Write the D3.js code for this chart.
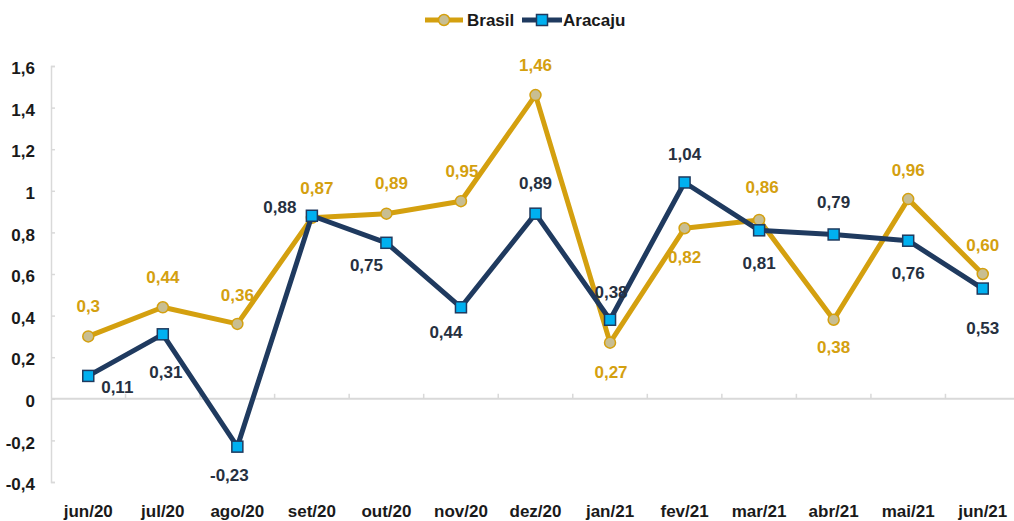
<!DOCTYPE html>
<html>
<head>
<meta charset="utf-8">
<script src="https://cdn.jsdelivr.net/npm/d3@7"></script>
<style>
 body{margin:0;background:#fff;}
 #svg{width:1014px;height:521px;display:block;font-family:"Liberation Sans Narrow","Arial Narrow","Liberation Sans",sans-serif;font-weight:bold;}
 .yAxis text,.xAxis text{fill:#1a1a1a;}
</style>
</head>
<body>
<svg id="svg"></svg>
<script>

var months=["jun/20","jul/20","ago/20","set/20","out/20","nov/20","dez/20","jan/21","fev/21","mar/21","abr/21","mai/21","jun/21"];
var brasil=[0.30,0.44,0.36,0.87,0.89,0.95,1.46,0.27,0.82,0.86,0.38,0.96,0.60];
var aracaju=[0.11,0.31,-0.23,0.88,0.75,0.44,0.89,0.38,1.04,0.81,0.79,0.76,0.53];
var brasilLabels=["0,3","0,44","0,36","0,87","0,89","0,95","1,46","0,27","0,82","0,86","0,38","0,96","0,60"];
var aracajuLabels=["0,11","0,31","-0,23","0,88","0,75","0,44","0,89","0,38","1,04","0,81","0,79","0,76","0,53"];
var yTicks=[-0.4,-0.2,0,0.2,0.4,0.6,0.8,1,1.2,1.4,1.6];
var yTickLabels=["-0,4","-0,2","0","0,2","0,4","0,6","0,8","1","1,2","1,4","1,6"];

// label placement (dx,dy from the point)
var brasilOff=[[0,-30],[0,-30],[0,-29],[5,-30],[5,-31],[1,-30],[0,-30],[1,29],[0,29],[3,-33],[0,27],[0,-29],[0,-29]];
var aracajuOff=[[29,11],[3,38],[-8,28],[-32,-9],[-20,22],[-15,25],[0,-31],[1,-28],[0,-28],[0,33],[0,-32],[0,32],[0,39]];

var svg=d3.select("#svg");

var gold="#D4A00F", navy="#1F3A5F";

var padding={top:66,left:51,bottom:39};

var yScale=d3.scaleLinear()
    .domain([-0.4,1.6])
    .range([482,66]);

var xScale=d3.scaleBand()
    .domain(months)
    .range([51,1020])
    .padding(0);

var cx=function(i){return xScale(months[i])+xScale.bandwidth()/2;};

// y-Axis
var yAxis=svg.append("g")
    .classed("yAxis",true)
    .attr("transform","translate("+padding.left+",0)")
    .call(d3.axisRight(yScale).tickValues(yTicks).tickSize(4).tickFormat(function(d,i){return yTickLabels[i];}));
yAxis.select(".domain").attr("stroke","#d9d9d9").attr("stroke-width",1.5);
yAxis.selectAll(".tick line").attr("stroke","#d9d9d9").attr("stroke-width",1.5);
yAxis.selectAll(".tick text")
    .attr("x",-16).attr("dy","0.45em")
    .attr("text-anchor","end")
    .style("font-size","17px");

// x-Axis on the zero line
var xAxis=svg.append("g")
    .classed("xAxis",true)
    .attr("transform","translate(0,"+yScale(0)+")");
xAxis.append("line")
    .attr("x1",51).attr("x2",1014)
    .attr("stroke","#d9d9d9").attr("stroke-width",2);
xAxis.selectAll(".xtick").data(months.slice(1)).enter()
    .append("line")
    .attr("x1",function(d){return xScale(d);})
    .attr("x2",function(d){return xScale(d);})
    .attr("y1",0).attr("y2",-5)
    .attr("stroke","#d9d9d9").attr("stroke-width",1.5);

svg.append("g").selectAll("text").data(months).enter()
    .append("text")
    .attr("x",function(d){return xScale(d)+xScale.bandwidth()/2;})
    .attr("y",517)
    .attr("text-anchor","middle")
    .attr("fill","#1a1a1a")
    .style("font-size","17px")
    .text(function(d){return d;});

var line=d3.line()
    .x(function(d,i){return cx(i);})
    .y(function(d){return yScale(d);});

// Brasil
svg.append("path").datum(brasil)
    .attr("d",line)
    .attr("fill","none").attr("stroke",gold).attr("stroke-width",5).attr("stroke-linejoin","round");
svg.append("g").selectAll("circle").data(brasil).enter()
    .append("circle")
    .attr("cx",function(d,i){return cx(i);})
    .attr("cy",function(d){return yScale(d);})
    .attr("r",5.5)
    .attr("fill","#C8BE92").attr("stroke",gold).attr("stroke-width",1.5);

// Aracaju
svg.append("path").datum(aracaju)
    .attr("d",line)
    .attr("fill","none").attr("stroke",navy).attr("stroke-width",5).attr("stroke-linejoin","round");
svg.append("g").selectAll("rect").data(aracaju).enter()
    .append("rect")
    .attr("x",function(d,i){return cx(i)-5.5;})
    .attr("y",function(d){return yScale(d)-5.5;})
    .attr("width",11).attr("height",11)
    .attr("fill","#00B0F0").attr("stroke",navy).attr("stroke-width",1.5);

// data labels
svg.append("g").selectAll("text").data(brasil).enter()
    .append("text")
    .attr("x",function(d,i){return cx(i)+brasilOff[i][0];})
    .attr("y",function(d,i){return yScale(d)+brasilOff[i][1];})
    .attr("dy","0.35em")
    .attr("text-anchor","middle")
    .attr("fill",gold)
    .style("font-size","17px")
    .text(function(d,i){return brasilLabels[i];});

svg.append("g").selectAll("text").data(aracaju).enter()
    .append("text")
    .attr("x",function(d,i){return cx(i)+aracajuOff[i][0];})
    .attr("y",function(d,i){return yScale(d)+aracajuOff[i][1];})
    .attr("dy","0.35em")
    .attr("text-anchor","middle")
    .attr("fill","#26303F")
    .style("font-size","17px")
    .text(function(d,i){return aracajuLabels[i];});

// legend
var legend=svg.append("g").attr("transform","translate(0,20)");
legend.append("line").attr("x1",425).attr("x2",463).attr("stroke",gold).attr("stroke-width",5);
legend.append("circle").attr("cx",444).attr("r",5.5).attr("fill","#C8BE92").attr("stroke",gold).attr("stroke-width",1.5);
legend.append("text").attr("x",467).attr("dy","0.35em").attr("fill","#1a1a1a").style("font-size","17px").text("Brasil");
legend.append("line").attr("x1",522).attr("x2",562).attr("stroke",navy).attr("stroke-width",5);
legend.append("rect").attr("x",536.5).attr("y",-5.5).attr("width",11).attr("height",11).attr("fill","#00B0F0").attr("stroke",navy).attr("stroke-width",1.5);
legend.append("text").attr("x",563).attr("dy","0.35em").attr("fill","#1a1a1a").style("font-size","17px").text("Aracaju");

</script>
</body>
</html>
